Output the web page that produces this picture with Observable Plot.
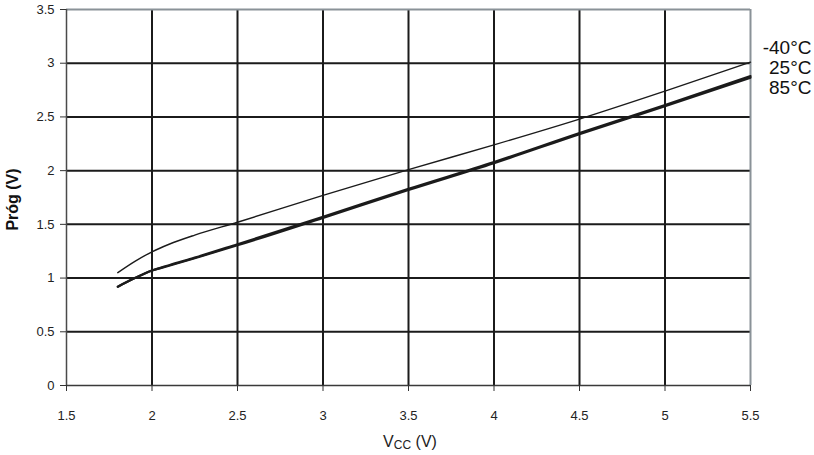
<!DOCTYPE html>
<html><head><meta charset="utf-8">
<script src="https://cdn.jsdelivr.net/npm/d3@7"></script>
<script src="https://cdn.jsdelivr.net/npm/@observablehq/plot@0.6"></script>
<style>
html,body{margin:0;padding:0;background:#fff;}
#chart svg{display:block;font-family:"Liberation Sans",Arial,sans-serif;}
</style>
</head><body><div id="chart"></div>
<script>
// Data
const vcc     = [1.8, 1.9, 2.0, 2.1, 2.25, 2.5, 3.0, 3.5, 4.0, 4.5, 5.0, 5.5];
const progM40 = [1.05, 1.155, 1.245, 1.315, 1.40, 1.52, 1.77, 2.01, 2.24, 2.48, 2.74, 3.01];
const prog25  = [0.92, 1.00, 1.07, 1.12, 1.19, 1.315, 1.57, 1.83, 2.08, 2.35, 2.61, 2.88];
const prog85  = [0.92, 1.00, 1.07, 1.115, 1.185, 1.305, 1.56, 1.82, 2.07, 2.34, 2.60, 2.865];
const seriesNames = ["-40°C", "25°C", "85°C"];
const xTicks = [1.5, 2, 2.5, 3, 3.5, 4, 4.5, 5, 5.5];
const yTicks = [0, 0.5, 1, 1.5, 2, 2.5, 3, 3.5];
const yTitle = "Próg (V)";
const xTitleMain = "V", xTitleSub = "CC", xTitleUnit = " (V)";

const seriesValues = [progM40, prog25, prog85];
const data = seriesNames.flatMap((name, s) =>
  vcc.map((v, i) => ({series: name, vcc: v, prog: seriesValues[s][i]})));

const ink = "#1b1b1b";
const plot = Plot.plot({
  width: 814,
  height: 455,
  marginLeft: 66,
  marginRight: 64,
  marginTop: 9,
  marginBottom: 70,
  style: {fontFamily: "'Liberation Sans', Arial, sans-serif", background: "#fff", color: "#222"},
  x: {domain: [1.5, 5.5]},
  y: {domain: [0, 3.5]},
  marks: [
    // interior grid
    Plot.ruleX(xTicks.slice(1, -1), {stroke: ink, strokeWidth: 2}),
    Plot.ruleY(yTicks.slice(1, -1), {stroke: ink, strokeWidth: 2}),
    // frame
    Plot.ruleY([3.5], {stroke: "#8a9298", strokeWidth: 2}),
    Plot.ruleX([5.5], {stroke: "#8a9298", strokeWidth: 2}),
    Plot.ruleX([1.5], {stroke: "#4a4a4a", strokeWidth: 1.5}),
    Plot.ruleY([0], {stroke: "#3a3a3a", strokeWidth: 1.5}),
    // axes
    Plot.axisX({ticks: xTicks, tickSize: 6, tickPadding: 19, tickFormat: d => String(d), fontSize: 13, label: null, stroke: "#333"}),
    Plot.axisY({ticks: yTicks, tickSize: 6, tickPadding: 6, tickFormat: d => String(d), fontSize: 13, label: null, stroke: "#333"}),
    // curves
    Plot.line(data.filter(d => d.series === seriesNames[0]), {x: "vcc", y: "prog", stroke: ink, strokeWidth: 1.4, curve: "monotone-x"}),
    Plot.line(data.filter(d => d.series === seriesNames[1]), {x: "vcc", y: "prog", stroke: ink, strokeWidth: 2.2, curve: "monotone-x"}),
    Plot.line(data.filter(d => d.series === seriesNames[2]), {x: "vcc", y: "prog", stroke: ink, strokeWidth: 2.2, curve: "monotone-x"}),
    // series labels on the right
    ...seriesNames.map((name, k) => Plot.text([name], {
      text: d => d, frameAnchor: "top-right", textAnchor: "end", lineAnchor: "middle",
      dx: 61, dy: 38 + 20 * k, fontSize: 19, fill: "#111"
    })),
    // y title
    Plot.text([yTitle], {text: d => d, frameAnchor: "left", rotate: -90, dx: -54, dy: 2,
      fontSize: 16, fontWeight: "bold", fill: "#111", textAnchor: "middle", lineAnchor: "middle"})
  ]
});

// x title with subscript
const svg = d3.select(plot);
const t = svg.append("text")
  .attr("x", 410).attr("y", 447)
  .attr("text-anchor", "middle")
  .attr("font-family", "'Liberation Sans', Arial, sans-serif")
  .attr("font-size", 16).attr("fill", "#222");
t.append("tspan").text(xTitleMain);
t.append("tspan").attr("font-size", 12).attr("dy", 2).text(xTitleSub);
t.append("tspan").attr("dy", -2).text(xTitleUnit);

document.getElementById("chart").appendChild(plot);
</script>
</body></html>
